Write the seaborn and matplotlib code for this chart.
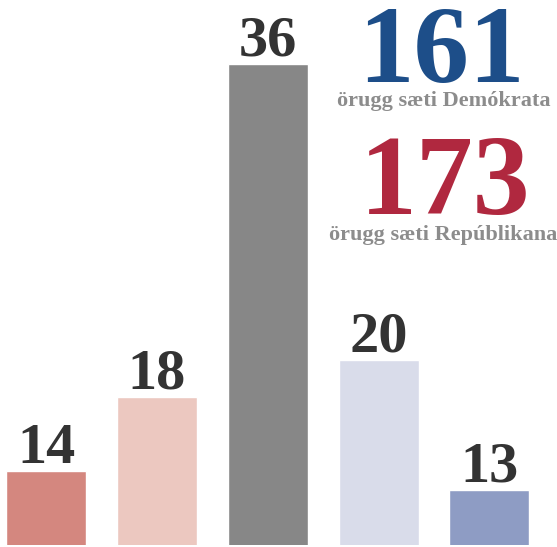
import matplotlib
matplotlib.use("Agg")
import matplotlib.pyplot as plt
import seaborn as sns
import pandas as pd

# data
categories = ["Líklega R", "Hallast að R", "Óráðið", "Hallast að D", "Líklega D"]
seats = [14, 18, 36, 20, 13]
bar_colors = ["#d4877f", "#ecc8c0", "#878787", "#d9dcea", "#8e9cc4"]
dem_total = 161
rep_total = 173
dem_label = "örugg sæti Demókrata"
rep_label = "örugg sæti Repúblikana"

W, H = 557, 547
sns.set_theme(style="white")
plt.rcParams['font.family'] = ['Liberation Serif', 'DejaVu Serif']

df = pd.DataFrame({"flokkur": categories, "saeti": seats})

fig = plt.figure(figsize=(W / 100, H / 100), dpi=100)
ax = fig.add_axes([0, 2 / H, 1, 545 / H])

sns.barplot(data=df, x="flokkur", y="saeti", hue="flokkur", palette=bar_colors,
            width=0.722, legend=False, ax=ax, saturation=1)

ax.set_xlim(-0.415, 4.61)
ax.set_ylim(10, 10 + 545 / 18.5)
ax.set_axis_off()

# value labels above bars
for i, v in enumerate(seats):
    ax.annotate(str(v), xy=(i, v), xytext=(0, 6), textcoords="offset points",
                ha="center", va="baseline", fontsize=42, fontweight="bold",
                color="#333333")

def px(x, y):
    return x / W, 1 - y / H

# big totals
fig.text(*px(441, 82), str(dem_total), ha="center", va="baseline",
         fontsize=80, fontweight="bold", color="#1d4e89")
fig.text(*px(443.5, 106), dem_label, ha="center", va="baseline",
         fontsize=16, fontweight="bold", color="#8c8c8c")
fig.text(*px(445, 214), str(rep_total), ha="center", va="baseline",
         fontsize=82, fontweight="bold", color="#b0283f")
fig.text(*px(443.5, 240), rep_label, ha="center", va="baseline",
         fontsize=16, fontweight="bold", color="#8c8c8c")

fig.savefig("out.png", dpi=100, facecolor="white")
